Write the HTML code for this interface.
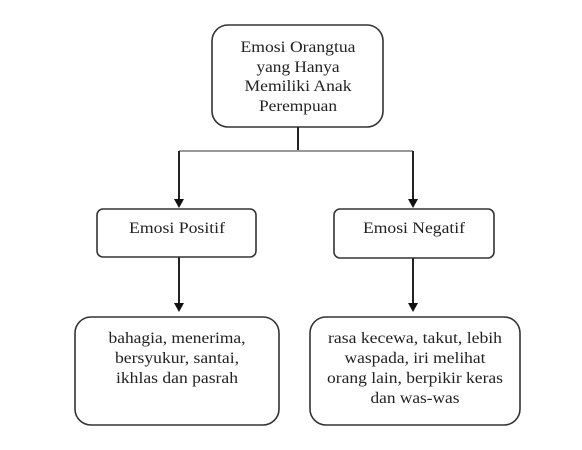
<!DOCTYPE html>
<html><head><meta charset="utf-8"><style>
html,body{margin:0;padding:0;background:#fff;width:582px;height:450px;overflow:hidden}
svg text{font-family:"Liberation Serif",serif;font-size:16px;fill:#222;text-anchor:middle}
</style></head><body>
<svg width="582" height="450" viewBox="0 0 582 450" xmlns="http://www.w3.org/2000/svg">
<g fill="none" stroke="#333" stroke-width="1.6">
<rect x="212" y="25" width="171" height="102" rx="16"/>
<rect x="97" y="209" width="159" height="48" rx="6"/>
<rect x="334" y="209" width="160" height="49" rx="6"/>
<rect x="75" y="317" width="204" height="108" rx="16"/>
<rect x="310" y="317" width="210" height="108" rx="16"/>
</g>
<g stroke="#222" stroke-width="2" fill="none">
<line x1="298" y1="127" x2="298" y2="151"/>
<line x1="179" y1="151" x2="413" y2="151" stroke="#999"/>
<line x1="179" y1="151" x2="179" y2="200"/>
<line x1="413" y1="151" x2="413" y2="200"/>
<line x1="179" y1="257" x2="179" y2="304"/>
<line x1="413" y1="258" x2="413" y2="304"/>
</g>
<g fill="#111">
<polygon points="174,199 184,199 179,208"/>
<polygon points="408,199 418,199 413,208"/>
<polygon points="174,303 184,303 179,312"/>
<polygon points="408,303 418,303 413,312"/>
</g>
<text x="298" y="52" textLength="115" lengthAdjust="spacingAndGlyphs">Emosi Orangtua</text>
<text x="298" y="72" textLength="83" lengthAdjust="spacingAndGlyphs">yang Hanya</text>
<text x="298" y="91" textLength="107" lengthAdjust="spacingAndGlyphs">Memiliki Anak</text>
<text x="298" y="111" textLength="78" lengthAdjust="spacingAndGlyphs">Perempuan</text>
<text x="177" y="233" textLength="96" lengthAdjust="spacingAndGlyphs">Emosi Positif</text>
<text x="414" y="233" textLength="102" lengthAdjust="spacingAndGlyphs">Emosi Negatif</text>
<text x="177" y="343" textLength="137" lengthAdjust="spacingAndGlyphs">bahagia, menerima,</text>
<text x="177" y="363" textLength="124" lengthAdjust="spacingAndGlyphs">bersyukur, santai,</text>
<text x="177" y="383" textLength="122" lengthAdjust="spacingAndGlyphs">ikhlas dan pasrah</text>
<text x="415" y="343" textLength="174" lengthAdjust="spacingAndGlyphs">rasa kecewa, takut, lebih</text>
<text x="415" y="363" textLength="141" lengthAdjust="spacingAndGlyphs">waspada, iri melihat</text>
<text x="415" y="383" textLength="176" lengthAdjust="spacingAndGlyphs">orang lain, berpikir keras</text>
<text x="415" y="403" textLength="89" lengthAdjust="spacingAndGlyphs">dan was-was</text>
</svg>
</body></html>
